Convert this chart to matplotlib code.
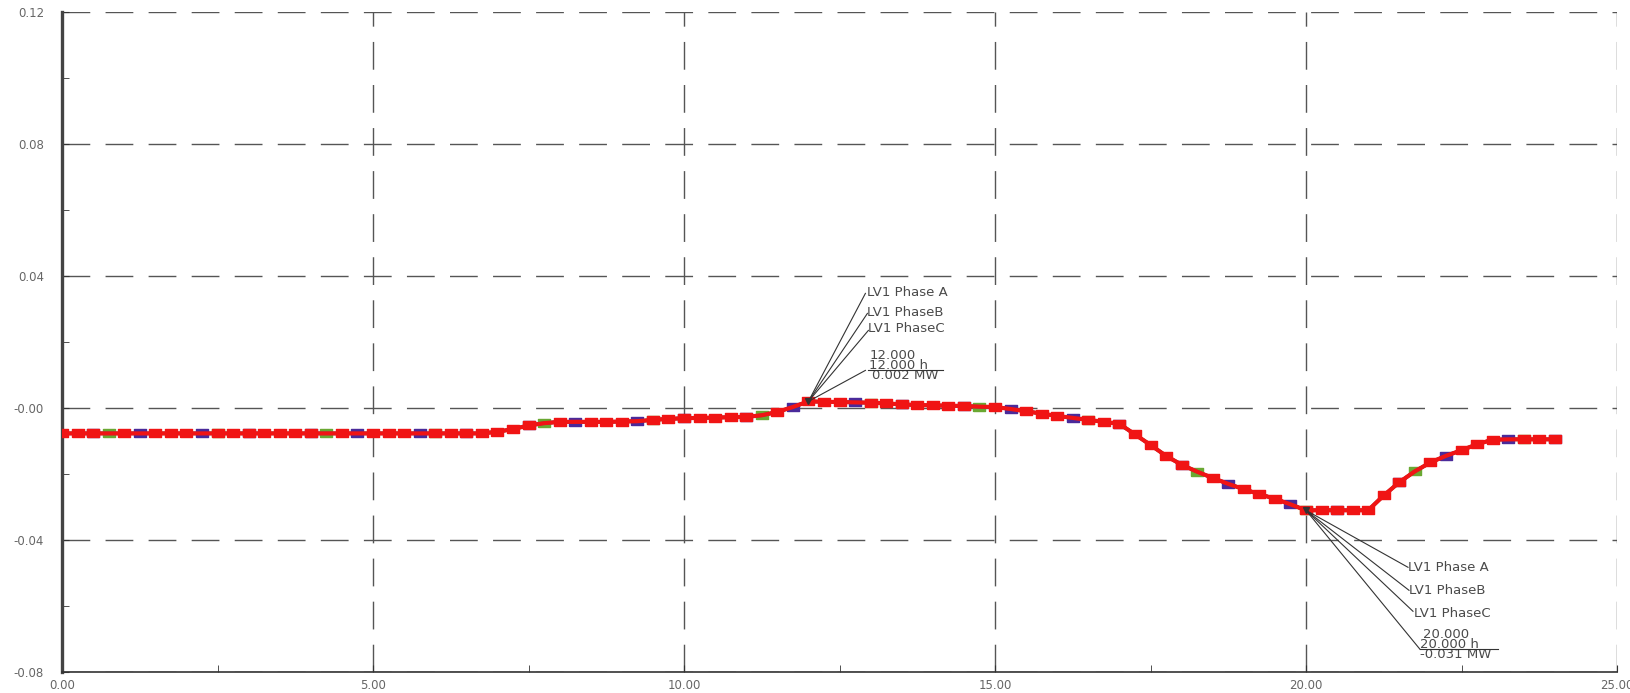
import numpy as np
import matplotlib
matplotlib.use("Agg")
import matplotlib.pyplot as plt
from matplotlib.transforms import IdentityTransform

# Active power of LV1 per phase over one day, 15 min steps
hours = np.arange(0, 24.01, 0.25)
flat_night = [-0.0077] * 28
power_a = flat_night + [
    -0.0072, -0.0064, -0.0053, -0.0046,            # 7.00 - 7.75
    -0.0042, -0.0042, -0.0042, -0.0042,            # 8
    -0.0041, -0.0040, -0.0036, -0.0033,            # 9
    -0.0031, -0.0030, -0.0029, -0.0028,            # 10
    -0.0027, -0.0022, -0.0012, 0.0003,             # 11
    0.002, 0.0019, 0.0018, 0.0017,                 # 12
    0.0016, 0.0014, 0.0011, 0.0009,                # 13
    0.0008, 0.0007, 0.0006, 0.0004,                # 14
    0.0003, -0.0003, -0.0010, -0.0017,             # 15
    -0.0024, -0.0030, -0.0036, -0.0042,            # 16
    -0.0048, -0.0080, -0.0112, -0.0145,            # 17
    -0.0172, -0.0193, -0.0212, -0.0230,            # 18
    -0.0246, -0.0261, -0.0275, -0.0292,            # 19
    -0.031, -0.031, -0.031, -0.031,                # 20
    -0.031, -0.0265, -0.0225, -0.0192,             # 21
    -0.0165, -0.0145, -0.0128, -0.0110,            # 22
    -0.0096, -0.0095, -0.0095, -0.0095,            # 23
    -0.0095,                                       # 24
]
power_b = list(power_a)
power_c = list(power_a)

series_names = ["LV1 Phase A", "LV1 PhaseB", "LV1 PhaseC"]
x_ticks = [0, 5, 10, 15, 20, 25]
x_labels = ["0.00", "5.00", "10.00", "15.00", "20.00", "25.00"]
y_ticks = [-0.08, -0.04, 0.0, 0.04, 0.08, 0.12]
y_labels = ["-0.08", "-0.04", "-0.00", "0.04", "0.08", "0.12"]

# readouts shown at two cursor positions
cursor_1 = (12.0, 0.002)
cursor_2 = (20.0, -0.031)

fig = plt.figure(figsize=(16.3, 6.93), dpi=100)
ax = fig.add_axes([62 / 1630, 1 - 672 / 693, (1617 - 62) / 1630, (672 - 12) / 693])

red = "#f01414"
blue = "#4a2a9a"
green = "#6aa832"
n = len(hours)
# flat rectangle marker used by the recorder
rect = [(-1.5, -1), (1.5, -1), (1.5, 1), (-1.5, 1), (-1.5, -1)]
blue_marks = [i for i in range(n) if i % 7 in (2, 5)]
green_marks = [i for i in range(n) if i % 7 == 3]
red_marks = [i for i in range(n) if i % 7 not in (2, 3, 5) or i % 2 == 0]

ax.plot(hours, power_b, color=green, lw=2.5, marker=rect, ms=9,
        mec=green, mfc=green, markevery=green_marks, zorder=3)
ax.plot(hours, power_a, color=blue, lw=2.5, marker=rect, ms=9,
        mec=blue, mfc=blue, markevery=blue_marks, zorder=4)
ax.plot(hours, power_c, color=red, lw=0, marker=rect, ms=9,
        mec=red, mfc=red, markevery=red_marks, zorder=5)
ax.plot(hours, power_c, color=red, lw=3.0, zorder=6)

ax.set_xlim(0, 25)
ax.set_ylim(-0.08, 0.12)
ax.set_xticks(x_ticks)
ax.set_xticklabels(x_labels)
ax.set_yticks(y_ticks)
ax.set_yticklabels(y_labels)
ax.set_xticks(np.arange(2.5, 25, 5), minor=True)
ax.set_yticks(np.arange(-0.06, 0.12, 0.04), minor=True)
ax.tick_params(which="both", direction="in", length=5, color="#333",
               labelsize=8.5, labelcolor="#666")
ax.tick_params(axis="y", pad=13)
ax.tick_params(axis="x", pad=5)

ax.grid(True, which="major", linestyle=(0, (20, 11)), color="#555", lw=1)
for side in ("top", "right"):
    ax.spines[side].set_visible(False)
ax.spines["left"].set_linewidth(2.4)
ax.spines["left"].set_color("#444")
ax.spines["bottom"].set_linewidth(1.2)
ax.spines["bottom"].set_color("#333")

txt_color = "#4a4a4a"
pix = IdentityTransform()


def readout(point, names, leaders, labels, values, underline):
    # leader lines and text block drawn in pixel offsets from the marked point
    px, py = ax.transData.transform(point)
    for (dx, dy) in leaders:
        ax.plot([px, px + dx], [py, py + dy], color="#333", lw=0.8,
                transform=pix, clip_on=False, zorder=7)
    for name, (dx, dy) in zip(names, labels):
        ax.text(px + dx, py + dy, name, transform=pix, fontsize=9.5,
                color=txt_color, ha="left", va="center", zorder=7)
    for val, (dx, dy) in values:
        ax.text(px + dx, py + dy, val, transform=pix, fontsize=9.5,
                color=txt_color, ha="left", va="center", zorder=7)
    x0, x1, yu = underline
    ax.plot([px + x0, px + x1], [py + yu, py + yu], color="#333", lw=0.8,
            transform=pix, clip_on=False, zorder=7)
    ax.plot([px], [py], marker="v", ms=5, color="#333", transform=pix, zorder=8)


readout(cursor_1, series_names,
        leaders=[(57, 108), (59, 88), (60, 71), (57, 31)],
        labels=[(59, 109), (59, 89), (60, 73)],
        values=[(f"{cursor_1[0]:.3f}", (61, 46)),
                (f"{cursor_1[0]:.3f} h", (61, 36)),
                (f"{cursor_1[1]:.3f} MW", (64, 26))],
        underline=(60, 135, 31))

readout(cursor_2, series_names,
        leaders=[(102, -57), (103, -80), (107, -101), (114, -139)],
        labels=[(102, -57), (103, -80), (108, -103)],
        values=[(f"{cursor_2[0]:.3f}", (117, -124)),
                (f"{cursor_2[0]:.3f} h", (114, -134)),
                (f"{cursor_2[1]:.3f} MW", (114, -144))],
        underline=(114, 192, -139))

fig.savefig("out.png", dpi=100)
